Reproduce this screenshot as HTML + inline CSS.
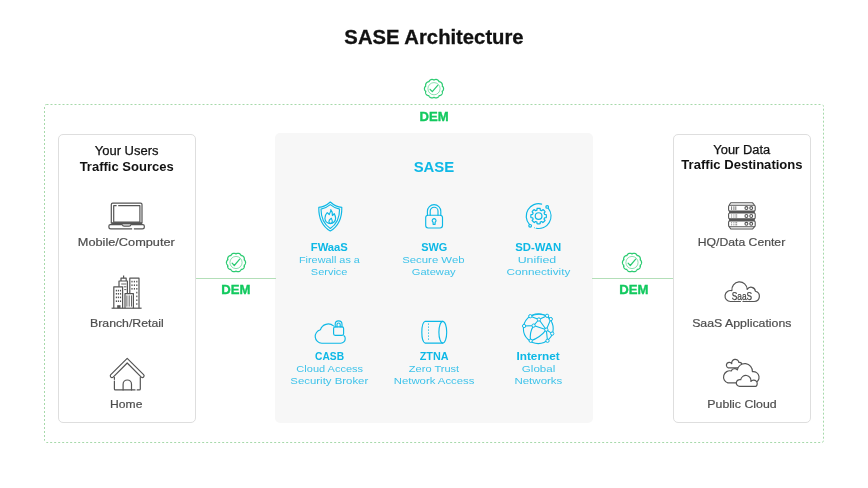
<!DOCTYPE html>
<html>
<head>
<meta charset="utf-8">
<style>
html,body{margin:0;padding:0;}
body{width:868px;height:488px;background:#fff;position:relative;overflow:hidden;font-family:"Liberation Sans",sans-serif;}
.t{position:absolute;white-space:nowrap;text-align:center;line-height:1;}
svg.ov{position:absolute;left:0;top:0;will-change:transform;}
.box{position:absolute;box-sizing:border-box;}
</style>
</head>
<body>
<div class="box" style="left:58px;top:134px;width:138px;height:289px;border:1px solid #dedede;border-radius:5px;"></div>
<div class="box" style="left:673px;top:134px;width:138px;height:289px;border:1px solid #dedede;border-radius:5px;"></div>
<div class="box" style="left:275px;top:133px;width:318px;height:290px;background:#f7f7f7;border-radius:5px;"></div>
<svg class="ov" width="868" height="488" viewBox="0 0 868 488">
<rect x="44.5" y="104.5" width="779" height="338" rx="2" fill="none" stroke="#a6d9aa" stroke-width="1" stroke-dasharray="2 2"/>
<line x1="196" y1="278.5" x2="276" y2="278.5" stroke="#b3dfb8" stroke-width="1"/>
<line x1="592" y1="278.5" x2="673" y2="278.5" stroke="#b3dfb8" stroke-width="1"/>
<path d="M434.00,80.10 L434.28,79.89 L434.56,79.75 L434.86,79.64 L435.16,79.55 L435.46,79.49 L435.76,79.46 L436.06,79.46 L436.37,79.49 L436.66,79.54 L436.95,79.62 L437.23,79.72 L437.50,79.86 L437.76,80.01 L438.00,80.19 L438.23,80.40 L438.44,80.62 L438.63,80.86 L438.81,81.13 L438.95,81.41 L439.05,81.74 L439.40,81.73 L439.72,81.79 L440.02,81.87 L440.31,81.98 L440.59,82.11 L440.85,82.26 L441.10,82.44 L441.33,82.64 L441.54,82.85 L441.73,83.09 L441.89,83.34 L442.03,83.60 L442.15,83.88 L442.24,84.17 L442.30,84.47 L442.34,84.77 L442.36,85.08 L442.34,85.40 L442.29,85.71 L442.18,86.04 L442.47,86.24 L442.69,86.47 L442.89,86.71 L443.06,86.97 L443.21,87.24 L443.33,87.52 L443.42,87.81 L443.49,88.10 L443.54,88.40 L443.55,88.70 L443.54,89.00 L443.49,89.30 L443.42,89.59 L443.33,89.88 L443.21,90.16 L443.06,90.43 L442.89,90.69 L442.69,90.93 L442.47,91.16 L442.18,91.36 L442.29,91.69 L442.34,92.00 L442.36,92.32 L442.34,92.63 L442.30,92.93 L442.24,93.23 L442.15,93.52 L442.03,93.80 L441.89,94.06 L441.73,94.31 L441.54,94.55 L441.33,94.76 L441.10,94.96 L440.85,95.14 L440.59,95.29 L440.31,95.42 L440.02,95.53 L439.72,95.61 L439.40,95.67 L439.05,95.66 L438.95,95.99 L438.81,96.27 L438.63,96.54 L438.44,96.78 L438.23,97.00 L438.00,97.21 L437.76,97.39 L437.50,97.54 L437.23,97.68 L436.95,97.78 L436.66,97.86 L436.37,97.91 L436.06,97.94 L435.76,97.94 L435.46,97.91 L435.16,97.85 L434.86,97.76 L434.56,97.65 L434.28,97.51 L434.00,97.30 L433.72,97.51 L433.44,97.65 L433.14,97.76 L432.84,97.85 L432.54,97.91 L432.24,97.94 L431.94,97.94 L431.63,97.91 L431.34,97.86 L431.05,97.78 L430.77,97.68 L430.50,97.54 L430.24,97.39 L430.00,97.21 L429.77,97.00 L429.56,96.78 L429.37,96.54 L429.19,96.27 L429.05,95.99 L428.95,95.66 L428.60,95.67 L428.28,95.61 L427.98,95.53 L427.69,95.42 L427.41,95.29 L427.15,95.14 L426.90,94.96 L426.67,94.76 L426.46,94.55 L426.27,94.31 L426.11,94.06 L425.97,93.80 L425.85,93.52 L425.76,93.23 L425.70,92.93 L425.66,92.63 L425.64,92.32 L425.66,92.00 L425.71,91.69 L425.82,91.36 L425.53,91.16 L425.31,90.93 L425.11,90.69 L424.94,90.43 L424.79,90.16 L424.67,89.88 L424.58,89.59 L424.51,89.30 L424.46,89.00 L424.45,88.70 L424.46,88.40 L424.51,88.10 L424.58,87.81 L424.67,87.52 L424.79,87.24 L424.94,86.97 L425.11,86.71 L425.31,86.47 L425.53,86.24 L425.82,86.04 L425.71,85.71 L425.66,85.40 L425.64,85.08 L425.66,84.77 L425.70,84.47 L425.76,84.17 L425.85,83.88 L425.97,83.60 L426.11,83.34 L426.27,83.09 L426.46,82.85 L426.67,82.64 L426.90,82.44 L427.15,82.26 L427.41,82.11 L427.69,81.98 L427.98,81.87 L428.28,81.79 L428.60,81.73 L428.95,81.74 L429.05,81.41 L429.19,81.13 L429.37,80.86 L429.56,80.62 L429.77,80.40 L430.00,80.19 L430.24,80.01 L430.50,79.86 L430.77,79.72 L431.05,79.62 L431.34,79.54 L431.63,79.49 L431.94,79.46 L432.24,79.46 L432.54,79.49 L432.84,79.55 L433.14,79.64 L433.44,79.75 L433.72,79.89 L434.00,80.10Z" fill="none" stroke="#2ccb72" stroke-width="1.25" stroke-linejoin="round"/><circle cx="434" cy="88.7" r="6.1" fill="none" stroke="#2ccb72" stroke-width="0.7" opacity="0.8"/><path d="M430.10,89.30 L432.30,91.70 L437.70,85.30" fill="none" stroke="#2ccb72" stroke-width="1.2" stroke-linecap="round" stroke-linejoin="round"/><path d="M236.00,253.90 L236.28,253.69 L236.56,253.55 L236.86,253.44 L237.16,253.35 L237.46,253.29 L237.76,253.26 L238.06,253.26 L238.37,253.29 L238.66,253.34 L238.95,253.42 L239.23,253.52 L239.50,253.66 L239.76,253.81 L240.00,253.99 L240.23,254.20 L240.44,254.42 L240.63,254.66 L240.81,254.93 L240.95,255.21 L241.05,255.54 L241.40,255.53 L241.72,255.59 L242.02,255.67 L242.31,255.78 L242.59,255.91 L242.85,256.06 L243.10,256.24 L243.33,256.44 L243.54,256.65 L243.73,256.89 L243.89,257.14 L244.03,257.40 L244.15,257.68 L244.24,257.97 L244.30,258.27 L244.34,258.57 L244.36,258.88 L244.34,259.20 L244.29,259.51 L244.18,259.84 L244.47,260.04 L244.69,260.27 L244.89,260.51 L245.06,260.77 L245.21,261.04 L245.33,261.32 L245.42,261.61 L245.49,261.90 L245.54,262.20 L245.55,262.50 L245.54,262.80 L245.49,263.10 L245.42,263.39 L245.33,263.68 L245.21,263.96 L245.06,264.23 L244.89,264.49 L244.69,264.73 L244.47,264.96 L244.18,265.16 L244.29,265.49 L244.34,265.80 L244.36,266.12 L244.34,266.43 L244.30,266.73 L244.24,267.03 L244.15,267.32 L244.03,267.60 L243.89,267.86 L243.73,268.11 L243.54,268.35 L243.33,268.56 L243.10,268.76 L242.85,268.94 L242.59,269.09 L242.31,269.22 L242.02,269.33 L241.72,269.41 L241.40,269.47 L241.05,269.46 L240.95,269.79 L240.81,270.07 L240.63,270.34 L240.44,270.58 L240.23,270.80 L240.00,271.01 L239.76,271.19 L239.50,271.34 L239.23,271.48 L238.95,271.58 L238.66,271.66 L238.37,271.71 L238.06,271.74 L237.76,271.74 L237.46,271.71 L237.16,271.65 L236.86,271.56 L236.56,271.45 L236.28,271.31 L236.00,271.10 L235.72,271.31 L235.44,271.45 L235.14,271.56 L234.84,271.65 L234.54,271.71 L234.24,271.74 L233.94,271.74 L233.63,271.71 L233.34,271.66 L233.05,271.58 L232.77,271.48 L232.50,271.34 L232.24,271.19 L232.00,271.01 L231.77,270.80 L231.56,270.58 L231.37,270.34 L231.19,270.07 L231.05,269.79 L230.95,269.46 L230.60,269.47 L230.28,269.41 L229.98,269.33 L229.69,269.22 L229.41,269.09 L229.15,268.94 L228.90,268.76 L228.67,268.56 L228.46,268.35 L228.27,268.11 L228.11,267.86 L227.97,267.60 L227.85,267.32 L227.76,267.03 L227.70,266.73 L227.66,266.43 L227.64,266.12 L227.66,265.80 L227.71,265.49 L227.82,265.16 L227.53,264.96 L227.31,264.73 L227.11,264.49 L226.94,264.23 L226.79,263.96 L226.67,263.68 L226.58,263.39 L226.51,263.10 L226.46,262.80 L226.45,262.50 L226.46,262.20 L226.51,261.90 L226.58,261.61 L226.67,261.32 L226.79,261.04 L226.94,260.77 L227.11,260.51 L227.31,260.27 L227.53,260.04 L227.82,259.84 L227.71,259.51 L227.66,259.20 L227.64,258.88 L227.66,258.57 L227.70,258.27 L227.76,257.97 L227.85,257.68 L227.97,257.40 L228.11,257.14 L228.27,256.89 L228.46,256.65 L228.67,256.44 L228.90,256.24 L229.15,256.06 L229.41,255.91 L229.69,255.78 L229.98,255.67 L230.28,255.59 L230.60,255.53 L230.95,255.54 L231.05,255.21 L231.19,254.93 L231.37,254.66 L231.56,254.42 L231.77,254.20 L232.00,253.99 L232.24,253.81 L232.50,253.66 L232.77,253.52 L233.05,253.42 L233.34,253.34 L233.63,253.29 L233.94,253.26 L234.24,253.26 L234.54,253.29 L234.84,253.35 L235.14,253.44 L235.44,253.55 L235.72,253.69 L236.00,253.90Z" fill="none" stroke="#2ccb72" stroke-width="1.25" stroke-linejoin="round"/><circle cx="236" cy="262.5" r="6.1" fill="none" stroke="#2ccb72" stroke-width="0.7" opacity="0.8"/><path d="M232.10,263.10 L234.30,265.50 L239.70,259.10" fill="none" stroke="#2ccb72" stroke-width="1.2" stroke-linecap="round" stroke-linejoin="round"/><path d="M632.00,253.90 L632.28,253.69 L632.56,253.55 L632.86,253.44 L633.16,253.35 L633.46,253.29 L633.76,253.26 L634.06,253.26 L634.37,253.29 L634.66,253.34 L634.95,253.42 L635.23,253.52 L635.50,253.66 L635.76,253.81 L636.00,253.99 L636.23,254.20 L636.44,254.42 L636.63,254.66 L636.81,254.93 L636.95,255.21 L637.05,255.54 L637.40,255.53 L637.72,255.59 L638.02,255.67 L638.31,255.78 L638.59,255.91 L638.85,256.06 L639.10,256.24 L639.33,256.44 L639.54,256.65 L639.73,256.89 L639.89,257.14 L640.03,257.40 L640.15,257.68 L640.24,257.97 L640.30,258.27 L640.34,258.57 L640.36,258.88 L640.34,259.20 L640.29,259.51 L640.18,259.84 L640.47,260.04 L640.69,260.27 L640.89,260.51 L641.06,260.77 L641.21,261.04 L641.33,261.32 L641.42,261.61 L641.49,261.90 L641.54,262.20 L641.55,262.50 L641.54,262.80 L641.49,263.10 L641.42,263.39 L641.33,263.68 L641.21,263.96 L641.06,264.23 L640.89,264.49 L640.69,264.73 L640.47,264.96 L640.18,265.16 L640.29,265.49 L640.34,265.80 L640.36,266.12 L640.34,266.43 L640.30,266.73 L640.24,267.03 L640.15,267.32 L640.03,267.60 L639.89,267.86 L639.73,268.11 L639.54,268.35 L639.33,268.56 L639.10,268.76 L638.85,268.94 L638.59,269.09 L638.31,269.22 L638.02,269.33 L637.72,269.41 L637.40,269.47 L637.05,269.46 L636.95,269.79 L636.81,270.07 L636.63,270.34 L636.44,270.58 L636.23,270.80 L636.00,271.01 L635.76,271.19 L635.50,271.34 L635.23,271.48 L634.95,271.58 L634.66,271.66 L634.37,271.71 L634.06,271.74 L633.76,271.74 L633.46,271.71 L633.16,271.65 L632.86,271.56 L632.56,271.45 L632.28,271.31 L632.00,271.10 L631.72,271.31 L631.44,271.45 L631.14,271.56 L630.84,271.65 L630.54,271.71 L630.24,271.74 L629.94,271.74 L629.63,271.71 L629.34,271.66 L629.05,271.58 L628.77,271.48 L628.50,271.34 L628.24,271.19 L628.00,271.01 L627.77,270.80 L627.56,270.58 L627.37,270.34 L627.19,270.07 L627.05,269.79 L626.95,269.46 L626.60,269.47 L626.28,269.41 L625.98,269.33 L625.69,269.22 L625.41,269.09 L625.15,268.94 L624.90,268.76 L624.67,268.56 L624.46,268.35 L624.27,268.11 L624.11,267.86 L623.97,267.60 L623.85,267.32 L623.76,267.03 L623.70,266.73 L623.66,266.43 L623.64,266.12 L623.66,265.80 L623.71,265.49 L623.82,265.16 L623.53,264.96 L623.31,264.73 L623.11,264.49 L622.94,264.23 L622.79,263.96 L622.67,263.68 L622.58,263.39 L622.51,263.10 L622.46,262.80 L622.45,262.50 L622.46,262.20 L622.51,261.90 L622.58,261.61 L622.67,261.32 L622.79,261.04 L622.94,260.77 L623.11,260.51 L623.31,260.27 L623.53,260.04 L623.82,259.84 L623.71,259.51 L623.66,259.20 L623.64,258.88 L623.66,258.57 L623.70,258.27 L623.76,257.97 L623.85,257.68 L623.97,257.40 L624.11,257.14 L624.27,256.89 L624.46,256.65 L624.67,256.44 L624.90,256.24 L625.15,256.06 L625.41,255.91 L625.69,255.78 L625.98,255.67 L626.28,255.59 L626.60,255.53 L626.95,255.54 L627.05,255.21 L627.19,254.93 L627.37,254.66 L627.56,254.42 L627.77,254.20 L628.00,253.99 L628.24,253.81 L628.50,253.66 L628.77,253.52 L629.05,253.42 L629.34,253.34 L629.63,253.29 L629.94,253.26 L630.24,253.26 L630.54,253.29 L630.84,253.35 L631.14,253.44 L631.44,253.55 L631.72,253.69 L632.00,253.90Z" fill="none" stroke="#2ccb72" stroke-width="1.25" stroke-linejoin="round"/><circle cx="632" cy="262.5" r="6.1" fill="none" stroke="#2ccb72" stroke-width="0.7" opacity="0.8"/><path d="M628.10,263.10 L630.30,265.50 L635.70,259.10" fill="none" stroke="#2ccb72" stroke-width="1.2" stroke-linecap="round" stroke-linejoin="round"/><g fill="none" stroke="#555555" stroke-width="1.2" stroke-linejoin="round"><path d="M111.3,223.5 V204.6 a1.4,1.4 0 0 1 1.4,-1.4 H140.6 a1.4,1.4 0 0 1 1.4,1.4 V223.5"/><path d="M118.2,205.7 H139.9 V222.2 H113.7 V205.7 H116.6"/><path d="M122.3,224.6 H110.4 a1.5,1.5 0 0 0 -1.5,1.5 v0.9 a1.9,1.9 0 0 0 1.9,1.9 H132.1 M133.9,228.9 H142.4 a1.9,1.9 0 0 0 1.9,-1.9 v-0.9 a1.5,1.5 0 0 0 -1.5,-1.5 H130.9 q-0.3,1.6 -1.8,1.6 h-5 q-1.5,0 -1.8,-1.6"/></g><rect x="111.3" y="222.2" width="30.7" height="2.2" fill="#555555"/><g fill="none" stroke="#555555" stroke-width="1.2" stroke-linejoin="round"><path d="M111.6,308.2 H141.6"/><path d="M113.8,308.2 V286.8 H122.6 V308.2"/><path d="M119,286.8 V281 H127.4 V293.4"/><path d="M121,281 V278.2 H126.2 V281"/><path d="M123.6,278.2 V275.4"/><path d="M129.8,293.4 V278.2 H139 V308.2"/><path d="M125,308.2 V293.6 H133.4 V308.2"/></g><g stroke="#555555" stroke-width="0.9"><path d="M126.9,295.4 V306.6"/><path d="M129.2,295.4 V306.6"/><path d="M131.5,295.4 V306.6"/><path d="M121.2,284 H126.4 M123.8,286.8 H126.4 M124.2,289.6 H126.4"/></g><g fill="#555555"><rect x="115.8" y="289.8" width="1.2" height="1.6"/><rect x="117.8" y="289.8" width="1.2" height="1.6"/><rect x="119.9" y="289.8" width="1.2" height="1.6"/><rect x="115.8" y="293.0" width="1.2" height="1.6"/><rect x="117.8" y="293.0" width="1.2" height="1.6"/><rect x="119.9" y="293.0" width="1.2" height="1.6"/><rect x="115.8" y="296.6" width="1.2" height="1.6"/><rect x="117.8" y="296.6" width="1.2" height="1.6"/><rect x="119.9" y="296.6" width="1.2" height="1.6"/><rect x="115.8" y="300.4" width="1.2" height="1.6"/><rect x="117.8" y="300.4" width="1.2" height="1.6"/><rect x="119.9" y="300.4" width="1.2" height="1.6"/><rect x="131.4" y="280.8" width="1.2" height="1.6"/><rect x="133.8" y="280.8" width="1.2" height="1.6"/><rect x="136.2" y="280.8" width="1.2" height="1.6"/><rect x="131.4" y="284.4" width="1.2" height="1.6"/><rect x="133.8" y="284.4" width="1.2" height="1.6"/><rect x="136.2" y="284.4" width="1.2" height="1.6"/><rect x="131.4" y="288.0" width="1.2" height="1.6"/><rect x="133.8" y="288.0" width="1.2" height="1.6"/><rect x="136.2" y="288.0" width="1.2" height="1.6"/><rect x="136.2" y="291.8" width="1.2" height="1.6"/><rect x="136.2" y="295.6" width="1.2" height="1.6"/><rect x="136.2" y="299.4" width="1.2" height="1.6"/><rect x="136.2" y="303.2" width="1.2" height="1.6"/><rect x="117.2" y="305.2" width="3.3" height="3"/></g><g fill="none" stroke="#555555" stroke-width="1.2" stroke-linejoin="round" stroke-linecap="round"><path d="M127.2,358.3 L110.8,374.7 A1.66,1.66 0 0 0 113.15,377.05 L127.2,363 L141.25,377.05 A1.66,1.66 0 0 0 143.6,374.7 Z"/><path d="M114.4,377.4 V379.3 M114.4,381 V388.9 a1,1 0 0 0 1,1 H135 M137.2,389.9 H139.3 a1,1 0 0 0 1,-1 V377.4"/><path d="M123.1,389.9 V384.2 a4.2,4.2 0 0 1 8.4,0 V389.9"/></g><g fill="none" stroke="#555555" stroke-width="1.1" stroke-linejoin="round"><path d="M729.2,205 L730.8,202.8 H752.6 L754.4,205"/><path d="M729.2,226.8 L730.8,229 H752.6 L754.4,226.8"/><rect x="728.6" y="205.2" width="26.6" height="5.8" rx="1.3"/><rect x="728.6" y="213.0" width="26.6" height="5.9" rx="1.3"/><rect x="728.6" y="220.9" width="26.6" height="5.8" rx="1.3"/><circle cx="746.4" cy="208.1" r="1.45"/><circle cx="751.2" cy="208.1" r="1.45"/><circle cx="746.4" cy="216.0" r="1.45"/><circle cx="751.2" cy="216.0" r="1.45"/><circle cx="746.4" cy="223.8" r="1.45"/><circle cx="751.2" cy="223.8" r="1.45"/></g><rect x="729" y="211" width="25.8" height="2" fill="#555555"/><rect x="729" y="218.9" width="25.8" height="2" fill="#555555"/><g stroke="#555555" stroke-width="0.8"><path d="M731.6,206.3 V210 M733.9,206.3 V210 M735.8,206.3 V210"/><path d="M731.1,215 h1 M733.4,215 h1 M735.4,215 h1.8"/><path d="M731.1,217 h1 M733.4,217 h1 M735.4,217 h1.8"/><path d="M731.1,222.8 h1 M733.4,222.8 h1 M735.4,222.8 h1.8"/><path d="M731.1,224.8 h1 M733.4,224.8 h1 M735.4,224.8 h1.8"/></g><path d="M730.50,301.50 A5.5,5.5 0 1 1 731.88,290.67 A7.7,7.7 0 1 1 747.20,289.39 A4.4,4.4 0 0 1 755.38,291.24 A5.2,5.2 0 0 1 754.20,301.50Z" fill="none" stroke="#555555" stroke-width="1.2" stroke-linejoin="round"/><rect x="740.9" y="300.5" width="1.6" height="2" fill="#fff"/><text x="741.9" y="299.7" font-family="Liberation Sans" font-size="10.4" fill="#444" stroke="#444" stroke-width="0.25" text-anchor="middle" textLength="20.3" lengthAdjust="spacingAndGlyphs">SaaS</text><g fill="#fff" stroke="#555555" stroke-width="1.2" stroke-linejoin="round"><path d="M728.05,367.80 A2.9,2.9 0 1 1 731.76,363.63 A3.6,3.6 0 1 1 738.88,362.37 A2.6,2.6 0 1 1 739.80,367.80Z"/><path d="M727.89,382.90 A6.2,6.2 0 0 1 731.25,370.97 A3.6,3.6 0 0 1 737.31,369.93 A7.6,7.6 0 0 1 752.39,371.66 A5.3,5.3 0 1 1 754.30,382.90Z"/><path d="M739.70,386.40 A3.4,3.4 0 1 1 740.71,379.75 A5.0,5.0 0 1 1 750.95,381.48 A3.5,3.5 0 1 1 755.83,386.40Z"/></g><g fill="none" stroke="#0db8e6" stroke-width="1.15" stroke-linejoin="round" stroke-linecap="round"><path d="M330.3,202 C327,205 322.5,207.2 318.8,207.4 C318.6,218 322,226 330.3,231 C338.6,226 342,218 341.8,207.4 C338.1,207.2 333.6,205 330.3,202 Z"/><path d="M330.3,204.6 C327.4,207 324,208.6 321,209.1 C321,217.6 324,224.6 330.3,228.4 C336.6,224.6 339.6,217.6 339.6,209.1 C336.6,208.6 333.2,207 330.3,204.6 Z"/><path d="M330.8,209.6 C331.2,211.5 329.8,212.6 329.3,214.6 C328.6,213.8 327.8,213.2 327.2,212.6 C325.6,214.2 324.8,216.3 324.9,218.4 C325.1,221.4 327.5,223.6 330.3,223.6 C333.3,223.6 335.6,221.2 335.6,218.2 C335.6,216.4 334.9,214.8 334.2,213.6 C333.6,214.4 333.2,215.2 332.4,215.6 C332.6,213.2 332.2,211 330.8,209.6 Z"/><path d="M331.3,218.2 C329.8,219.2 328.9,220.3 328.9,221.5 C328.9,222.6 329.8,223.3 330.6,223.3 C331.6,223.3 332.3,222.5 332.3,221.4 C332.3,220.3 331.6,219.3 331.3,218.2 Z"/></g><g fill="none" stroke="#0db8e6" stroke-width="1.15" stroke-linejoin="round" stroke-linecap="round"><rect x="425.7" y="215.2" width="16.8" height="12.8" rx="2.4"/><path d="M427.4,215.2 V211.3 a6.7,6.7 0 0 1 13.4,0 V215.2"/><path d="M430.2,215.2 V211.1 a3.9,3.9 0 0 1 7.8,0 V215.2"/><path d="M433.1,222.2 a1.9,1.9 0 1 1 2,0 V224.3 h-2 Z"/></g><g fill="none" stroke="#0db8e6" stroke-width="1.2" stroke-linejoin="round" stroke-linecap="round"><path d="M536.95,210.12 L537.05,208.46 A7.8,7.8 0 0 1 540.15,208.46 L540.25,210.12 A6.2,6.2 0 0 1 541.66,210.71 L542.91,209.60 A7.8,7.8 0 0 1 545.10,211.79 L543.99,213.04 A6.2,6.2 0 0 1 544.58,214.45 L546.24,214.55 A7.8,7.8 0 0 1 546.24,217.65 L544.58,217.75 A6.2,6.2 0 0 1 543.99,219.16 L545.10,220.41 A7.8,7.8 0 0 1 542.91,222.60 L541.66,221.49 A6.2,6.2 0 0 1 540.25,222.08 L540.15,223.74 A7.8,7.8 0 0 1 537.05,223.74 L536.95,222.08 A6.2,6.2 0 0 1 535.54,221.49 L534.29,222.60 A7.8,7.8 0 0 1 532.10,220.41 L533.21,219.16 A6.2,6.2 0 0 1 532.62,217.75 L530.96,217.65 A7.8,7.8 0 0 1 530.96,214.55 L532.62,214.45 A6.2,6.2 0 0 1 533.21,213.04 L532.10,211.79 A7.8,7.8 0 0 1 534.29,209.60 L535.54,210.71 A6.2,6.2 0 0 1 536.95,210.12Z"/><circle cx="538.6" cy="216.1" r="3.35"/><path d="M529.39,224.40 A12.4,12.4 0 0 1 541.60,204.07"/><path d="M548.37,208.47 A12.4,12.4 0 0 1 536.23,228.27"/><circle cx="534.36" cy="227.75" r="0.5" fill="#0db8e6" stroke="none"/><circle cx="547.19" cy="206.88" r="1.35"/><circle cx="530.14" cy="225.84" r="1.35"/></g><g fill="none" stroke="#0db8e6" stroke-width="1.15" stroke-linejoin="round" stroke-linecap="round"><path d="M333.5,325.9 A8.2,8.2 0 0 0 320.4,329.8 A6.8,6.8 0 0 0 321.8,343.2 H340.6 A4.4,4.4 0 0 0 345.2,338.7 A3.4,3.4 0 0 0 344,335.7"/><rect x="333.6" y="326.9" width="10" height="8.4" rx="1.5"/><path d="M335.2,326.9 V324.3 a3.4,3.4 0 0 1 6.8,0 V326.9"/><path d="M337,326.9 V324.6 a1.6,1.6 0 0 1 3.2,0 V326.9"/></g><g fill="none" stroke="#0db8e6" stroke-width="1.15" stroke-linejoin="round" stroke-linecap="round"><path d="M442.8,321.3 H425.2 A3.9,11 0 0 0 425.2,343.1 H442.8"/><ellipse cx="442.8" cy="332.2" rx="3.9" ry="10.9"/></g><path d="M428.5,323.5 V341.5" stroke="#0db8e6" stroke-width="1" stroke-dasharray="1.2 1.8" fill="none"/><g fill="none" stroke="#0db8e6" stroke-width="1.1" stroke-linejoin="round" stroke-linecap="round"><circle cx="538.3" cy="328.7" r="14.9"/><path d="M530.3,316.2 L538.9,319.5 L547.1,315.8 M538.9,319.5 L533.6,325.6 L524.1,326 M533.6,325.6 L546.3,329.7 L552.2,333.6 M538.9,319.5 L546.3,329.7 M550.8,319.1 L546.3,329.7 L547.5,340.8"/><path d="M533.6,325.6 Q529,333 530.7,340.8"/><path d="M546.3,329.7 Q540,338 530.7,340.8"/><path d="M530.3,316.2 Q538.5,312.5 547.1,315.8"/><path d="M547.1,315.8 L550.8,319.1"/></g><g fill="#f7f7f7" stroke="#0db8e6" stroke-width="1"><circle cx="530.3" cy="316.2" r="1.65"/><circle cx="547.1" cy="315.8" r="1.65"/><circle cx="538.9" cy="319.5" r="1.65"/><circle cx="550.8" cy="319.1" r="1.65"/><circle cx="524.1" cy="326.0" r="1.65"/><circle cx="533.6" cy="325.6" r="1.65"/><circle cx="546.3" cy="329.7" r="1.65"/><circle cx="530.7" cy="340.8" r="1.65"/><circle cx="547.5" cy="340.8" r="1.65"/><circle cx="552.2" cy="333.6" r="1.65"/></g>
<g font-family="Liberation Sans">
<text x="434.01" y="43.8" font-size="20" font-weight="bold" stroke="#111" stroke-width="0.3" fill="#111" text-anchor="middle" textLength="179.25" lengthAdjust="spacingAndGlyphs">SASE Architecture</text>
<text x="434.12" y="120.9" font-size="12.5" font-weight="bold" stroke="#12c95f" stroke-width="0.35" fill="#12c95f" text-anchor="middle" textLength="29.03" lengthAdjust="spacingAndGlyphs">DEM</text>
<text x="235.97" y="293.9" font-size="12.5" font-weight="bold" stroke="#12c95f" stroke-width="0.35" fill="#12c95f" text-anchor="middle" textLength="29.20" lengthAdjust="spacingAndGlyphs">DEM</text>
<text x="633.97" y="293.9" font-size="12.5" font-weight="bold" stroke="#12c95f" stroke-width="0.35" fill="#12c95f" text-anchor="middle" textLength="29.20" lengthAdjust="spacingAndGlyphs">DEM</text>
<text x="126.64" y="155.2" font-size="12.5" stroke="#111" stroke-width="0.25" fill="#111" text-anchor="middle" textLength="63.71" lengthAdjust="spacingAndGlyphs">Your Users</text>
<text x="126.66" y="170.75" font-size="12.7" font-weight="bold" fill="#111" text-anchor="middle" textLength="94.02" lengthAdjust="spacingAndGlyphs">Traffic Sources</text>
<text x="126.29" y="246" font-size="11.6" stroke="#4d4d4d" stroke-width="0.2" fill="#4d4d4d" text-anchor="middle" textLength="97.00" lengthAdjust="spacingAndGlyphs">Mobile/Computer</text>
<text x="126.89" y="327" font-size="11.8" stroke="#4d4d4d" stroke-width="0.2" fill="#4d4d4d" text-anchor="middle" textLength="73.73" lengthAdjust="spacingAndGlyphs">Branch/Retail</text>
<text x="126.30" y="408" font-size="11.6" stroke="#4d4d4d" stroke-width="0.2" fill="#4d4d4d" text-anchor="middle" textLength="32.33" lengthAdjust="spacingAndGlyphs">Home</text>
<text x="741.79" y="153.8" font-size="12.5" stroke="#111" stroke-width="0.25" fill="#111" text-anchor="middle" textLength="56.88" lengthAdjust="spacingAndGlyphs">Your Data</text>
<text x="741.99" y="169.4" font-size="12.7" font-weight="bold" fill="#111" text-anchor="middle" textLength="121.24" lengthAdjust="spacingAndGlyphs">Traffic Destinations</text>
<text x="741.47" y="246.4" font-size="11.6" stroke="#4d4d4d" stroke-width="0.2" fill="#4d4d4d" text-anchor="middle" textLength="87.48" lengthAdjust="spacingAndGlyphs">HQ/Data Center</text>
<text x="741.78" y="326.7" font-size="11.6" stroke="#4d4d4d" stroke-width="0.2" fill="#4d4d4d" text-anchor="middle" textLength="99.24" lengthAdjust="spacingAndGlyphs">SaaS Applications</text>
<text x="741.99" y="408" font-size="11.6" stroke="#4d4d4d" stroke-width="0.2" fill="#4d4d4d" text-anchor="middle" textLength="69.25" lengthAdjust="spacingAndGlyphs">Public Cloud</text>
<text x="433.97" y="171.8" font-size="15" font-weight="bold" fill="#0db8e6" text-anchor="middle" textLength="40.63" lengthAdjust="spacingAndGlyphs">SASE</text>
<text x="329.33" y="250.8" font-size="10.1" font-weight="bold" fill="#0db8e6" text-anchor="middle" textLength="37.10" lengthAdjust="spacingAndGlyphs">FWaaS</text>
<text x="329.41" y="263.1" font-size="9.8" fill="#3fc3ea" text-anchor="middle" textLength="60.91" lengthAdjust="spacingAndGlyphs">Firewall as a</text>
<text x="329.17" y="274.8" font-size="9.8" fill="#3fc3ea" text-anchor="middle" textLength="36.63" lengthAdjust="spacingAndGlyphs">Service</text>
<text x="434.23" y="250.8" font-size="10.1" font-weight="bold" fill="#0db8e6" text-anchor="middle" textLength="26.07" lengthAdjust="spacingAndGlyphs">SWG</text>
<text x="433.38" y="263.1" font-size="9.8" fill="#3fc3ea" text-anchor="middle" textLength="62.33" lengthAdjust="spacingAndGlyphs">Secure Web</text>
<text x="433.71" y="274.8" font-size="9.8" fill="#3fc3ea" text-anchor="middle" textLength="43.90" lengthAdjust="spacingAndGlyphs">Gateway</text>
<text x="538.25" y="250.8" font-size="10.1" font-weight="bold" fill="#0db8e6" text-anchor="middle" textLength="46.03" lengthAdjust="spacingAndGlyphs">SD-WAN</text>
<text x="536.96" y="263.1" font-size="9.8" fill="#3fc3ea" text-anchor="middle" textLength="38.60" lengthAdjust="spacingAndGlyphs">Unified</text>
<text x="538.36" y="274.8" font-size="9.8" fill="#3fc3ea" text-anchor="middle" textLength="63.80" lengthAdjust="spacingAndGlyphs">Connectivity</text>
<text x="329.58" y="359.7" font-size="10.1" font-weight="bold" fill="#0db8e6" text-anchor="middle" textLength="28.98" lengthAdjust="spacingAndGlyphs">CASB</text>
<text x="329.75" y="371.8" font-size="9.8" fill="#3fc3ea" text-anchor="middle" textLength="66.77" lengthAdjust="spacingAndGlyphs">Cloud Access</text>
<text x="329.30" y="384.0" font-size="9.8" fill="#3fc3ea" text-anchor="middle" textLength="77.90" lengthAdjust="spacingAndGlyphs">Security Broker</text>
<text x="434.15" y="359.8" font-size="10.1" font-weight="bold" fill="#0db8e6" text-anchor="middle" textLength="28.89" lengthAdjust="spacingAndGlyphs">ZTNA</text>
<text x="434.00" y="371.8" font-size="9.8" fill="#3fc3ea" text-anchor="middle" textLength="50.36" lengthAdjust="spacingAndGlyphs">Zero Trust</text>
<text x="434.09" y="384.0" font-size="9.8" fill="#3fc3ea" text-anchor="middle" textLength="80.60" lengthAdjust="spacingAndGlyphs">Network Access</text>
<text x="538.06" y="359.8" font-size="10.1" font-weight="bold" fill="#0db8e6" text-anchor="middle" textLength="43.08" lengthAdjust="spacingAndGlyphs">Internet</text>
<text x="538.57" y="371.8" font-size="9.8" fill="#3fc3ea" text-anchor="middle" textLength="33.57" lengthAdjust="spacingAndGlyphs">Global</text>
<text x="538.40" y="384.0" font-size="9.8" fill="#3fc3ea" text-anchor="middle" textLength="47.98" lengthAdjust="spacingAndGlyphs">Networks</text>
</g>
</svg>
</body>
</html>
